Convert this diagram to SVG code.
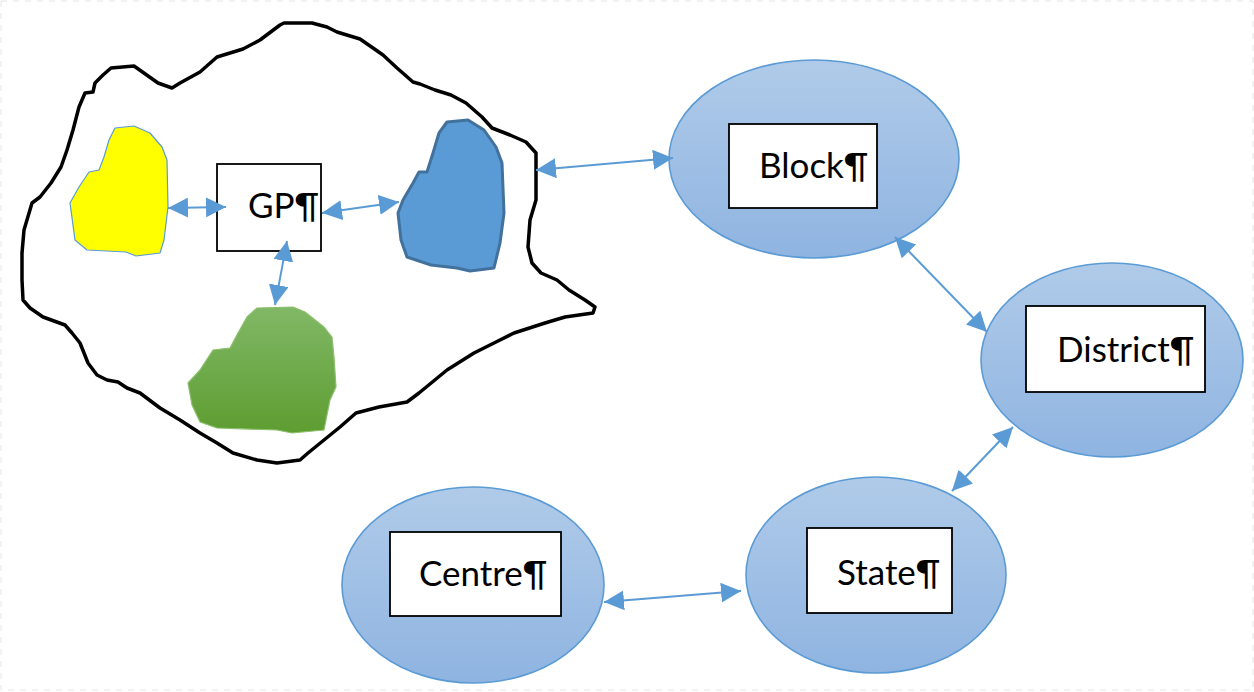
<svg xmlns="http://www.w3.org/2000/svg" width="1254" height="692" viewBox="0 0 1254 692">
  <style>
    .lbl { font-family: Lato, "Liberation Sans", sans-serif; font-size: 35px; fill: #000; }
    .box { fill: #fff; stroke: #000; stroke-width: 1.8; }
    .oval { fill: url(#ovalFill); stroke: #5B9BD5; stroke-width: 1.6; }
    .link { fill: none; stroke: #5B9BD5; stroke-width: 2; marker-start: url(#head); marker-end: url(#head); }
  </style>
  <defs>
    <linearGradient id="ovalFill" x1="0" y1="0" x2="0" y2="1">
      <stop offset="0" stop-color="#B0CBE9"/>
      <stop offset="1" stop-color="#8FB4E1"/>
    </linearGradient>
    <linearGradient id="greenFill" x1="0" y1="0" x2="0" y2="1">
      <stop offset="0" stop-color="#81B866"/>
      <stop offset="1" stop-color="#5E9D31"/>
    </linearGradient>
    <marker id="head" viewBox="0 0 20 20" markerWidth="20" markerHeight="20" refX="20" refY="10" markerUnits="userSpaceOnUse" orient="auto-start-reverse">
      <path d="M0,0 L20,10 L0,20 z" fill="#5B9BD5"/>
    </marker>
  </defs>

  <!-- faint page border -->
  <rect x="1" y="1" width="1252" height="689" fill="#fff" stroke="#e6e6e6" stroke-width="1" stroke-dasharray="6 6"/>

  <!-- village boundary with the GP and its three areas -->
  <g id="village">
    <path d="M172,88 L180,83 L200,72 L217,57 L243,49 L260,40 L280,25 L284,23 L312,23 L327,27 L337,32 L360,39 L373,48 L383,55 L397,68 L413,82 L420,84 L435,90 L451,95 L466,103 L482,117 L492,128 L510,135 L526,142 L536,153 L536,180 L536,200 L530,220 L528,247 L532,263 L541,273 L557,280 L569,290 L585,300 L595,307 L593,313 L565,317 L545,323 L514,333 L494,343 L474,353 L447,370 L419,393 L407,402 L379,407 L356,413 L340,427 L324,440 L308,453 L300,460 L277,463 L257,460 L233,453 L217,443 L200,433 L180,420 L160,408 L140,393 L127,388 L118,382 L107,380 L97,375 L88,363 L80,343 L72,333 L65,325 L43,317 L30,308 L23,300 L22,280 L22,253 L24,230 L32,203 L40,197 L51,183 L61,167 L67,150 L73,130 L79,107 L85,93 L93,92 L95,83 L103,75 L111,68 L134,66 L158,83 Z" fill="#fff" stroke="#000" stroke-width="3.5" stroke-linejoin="round"/>
  </g>
  <g id="area-yellow">
    <path d="M115,128 L134,126 L150,133 L162,147 L167,160 L168,207 L164,240 L160,253 L136,256 L126,252 L87,250 L75,240 L70,203 L79,187 L89,172 L99,170 L104,157 L109,140 Z" fill="#FFFF00" stroke="#5B9BD5" stroke-width="1.2" stroke-linejoin="round"/>
  </g>
  <g id="area-blue">
    <path d="M447,122 L468,120 L484,130 L496,147 L502,163 L504,213 L500,243 L494,268 L470,271 L457,268 L431,265 L407,257 L401,240 L398,213 L403,200 L413,183 L419,172 L427,172 L433,153 L439,133 Z" fill="#5B9BD5" stroke="#41719C" stroke-width="3" stroke-linejoin="round"/>
  </g>
  <g id="area-green">
    <path d="M257,308 L293,307 L305,312 L324,327 L332,337 L334,357 L336,387 L330,400 L324,430 L292,433 L277,430 L217,428 L200,422 L192,405 L188,383 L200,370 L213,350 L230,348 L238,333 L247,317 Z" fill="url(#greenFill)" stroke="#8CC06D" stroke-width="1.2" stroke-linejoin="round"/>
  </g>
  <g id="gp">
    <rect class="box" x="217" y="164" width="104" height="87"/>
    <text class="lbl" x="248" y="218">GP¶</text>
  </g>

  <!-- administrative levels -->
  <g id="block">
    <ellipse class="oval" cx="814" cy="159" rx="145" ry="99"/>
    <rect class="box" x="729" y="124" width="148" height="84"/>
    <text class="lbl" x="759" y="178">Block¶</text>
  </g>
  <g id="district">
    <ellipse class="oval" cx="1112" cy="360" rx="131" ry="97"/>
    <rect class="box" x="1026" y="306" width="179" height="86"/>
    <text class="lbl" x="1057" y="362">District¶</text>
  </g>
  <g id="state">
    <ellipse class="oval" cx="876" cy="575" rx="130" ry="98"/>
    <rect class="box" x="807" y="528" width="145" height="85"/>
    <text class="lbl" x="837" y="585">State¶</text>
  </g>
  <g id="centre">
    <ellipse class="oval" cx="473" cy="585" rx="131" ry="98"/>
    <rect class="box" x="390" y="532" width="171" height="84"/>
    <text class="lbl" x="419" y="586">Centre¶</text>
  </g>

  <!-- two-way links -->
  <g id="connectors">
    <line class="link" x1="168" y1="208" x2="226" y2="207"/>
    <line class="link" x1="322" y1="213" x2="399" y2="202"/>
    <line class="link" x1="287" y1="241" x2="275" y2="305"/>
    <line class="link" x1="536" y1="170" x2="673" y2="158"/>
    <line class="link" x1="895" y1="237" x2="987" y2="332"/>
    <line class="link" x1="1013" y1="427" x2="952" y2="491"/>
    <line class="link" x1="604" y1="602" x2="741" y2="591"/>
  </g>
</svg>
